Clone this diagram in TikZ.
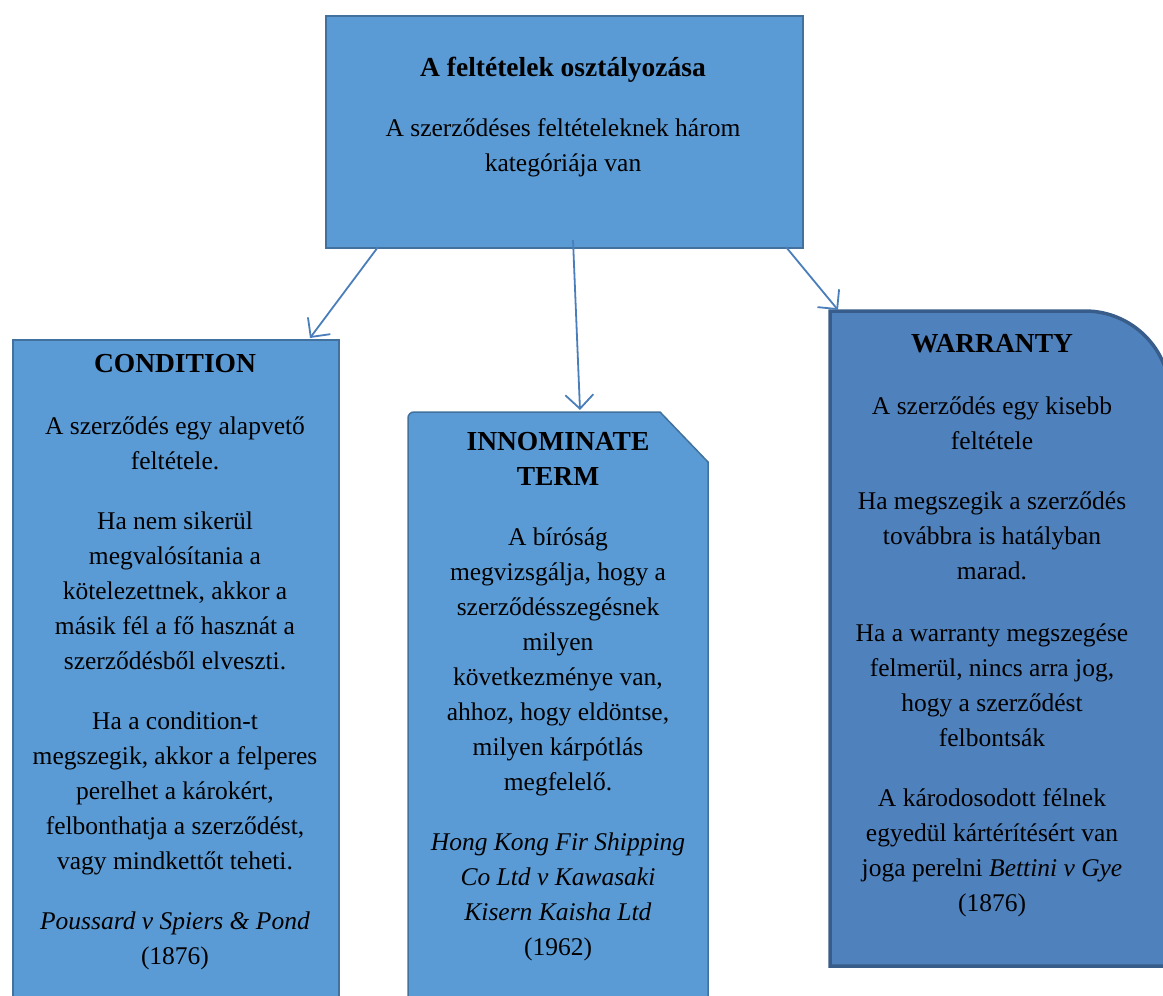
\documentclass[tikz,border=0pt]{standalone}
\usepackage{fontspec}
\setmainfont{Liberation Serif}
\usetikzlibrary{arrows.meta}
\definecolor{boxfill}{HTML}{5B9BD5}
\definecolor{boxline}{HTML}{41719C}
\definecolor{wfill}{HTML}{4F81BD}
\definecolor{wline}{HTML}{385D8A}
\definecolor{arr}{HTML}{4A7EBB}
\tikzset{
 box/.style={fill=boxfill, draw=boxline, line width=1.5pt},
 wbox/.style={fill=wfill, draw=wline, line width=3.5pt},
 txt/.style={align=center, font=\fontsize{25.5}{35}\selectfont, inner sep=0pt, anchor=north},
 conn/.style={draw=arr, line width=1.8pt, -{Straight Barb[length=14pt,width=28pt]}},
}
\newcommand\hd[1]{{\fontsize{27.5}{35}\selectfont\bfseries #1}}
\begin{document}
\begin{tikzpicture}[x=1pt,y=-1pt]
\useasboundingbox (0,0) rectangle (1163,996);
% boxes
\node[box, anchor=north west, minimum width=477pt, minimum height=232pt] (top) at (325,15) {};
\node[box, anchor=north west, minimum width=326pt, minimum height=700pt] (cond) at (12,339) {};
\draw[box] (408,1020) -- (408,418) to[out=90,in=180] (414,412) -- (660,412) -- (708,462) -- (708,1020) -- cycle;
\draw[wbox] (830,966) -- (830,311) -- (1085,311) arc[start angle=-90, end angle=0, radius=85] -- (1170,966) -- cycle;
% connector end points
\coordinate (s1) at (378,247);
\coordinate (e1) at (310,338);
\coordinate (s2) at (573,240);
\coordinate (e2) at (580,410);
\coordinate (s3) at (786,247);
\coordinate (e3) at (838,310);
\draw[conn] (s1) -- (e1);
\draw[conn] (s2) -- (e2);
\draw[conn] (s3) -- (e3);
% texts
\node[txt] (toptxt) at (563,57) {\hd{A feltételek osztályozása}\\[25pt]
A szerződéses feltételeknek három\\ kategóriája van};
\node[txt] (condtxt) at (175,354) {\hd{CONDITION}\\[27pt]
A szerződés egy alapvető\\ feltétele.\\[25pt]
Ha nem sikerül\\ megvalósítania a\\ kötelezettnek, akkor a\\ másik fél a fő hasznát a\\ szerződésből elveszti.\\[25pt]
Ha a condition-t\\ megszegik, akkor a felperes\\ perelhet a károkért,\\ felbonthatja a szerződést,\\ vagy mindkettőt teheti.\\[25pt]
\textit{Poussard v Spiers \& Pond}\\ (1876)};
\node[txt] (inntxt) at (558,432) {\hd{INNOMINATE}\\ \hd{TERM}\\[25pt]
A bíróság\\ megvizsgálja, hogy a\\ szerződésszegésnek\\ milyen\\ következménye van,\\ ahhoz, hogy eldöntse,\\ milyen kárpótlás\\ megfelelő.\\[25pt]
\textit{Hong Kong Fir Shipping}\\ \textit{Co Ltd v Kawasaki}\\ \textit{Kisern Kaisha Ltd}\\ (1962)};
\node[txt] (wartxt) at (992,334) {\hd{WARRANTY}\\[27pt]
A szerződés egy kisebb\\ feltétele\\[25pt]
Ha megszegik a szerződés\\ továbbra is hatályban\\ marad.\\[27pt]
Ha a warranty megszegése\\ felmerül, nincs arra jog,\\ hogy a szerződést\\ felbontsák\\[25pt]
A károdosodott félnek\\ egyedül kártérítésért van\\ joga perelni \textit{Bettini v Gye}\\ (1876)};
\end{tikzpicture}
\end{document}
